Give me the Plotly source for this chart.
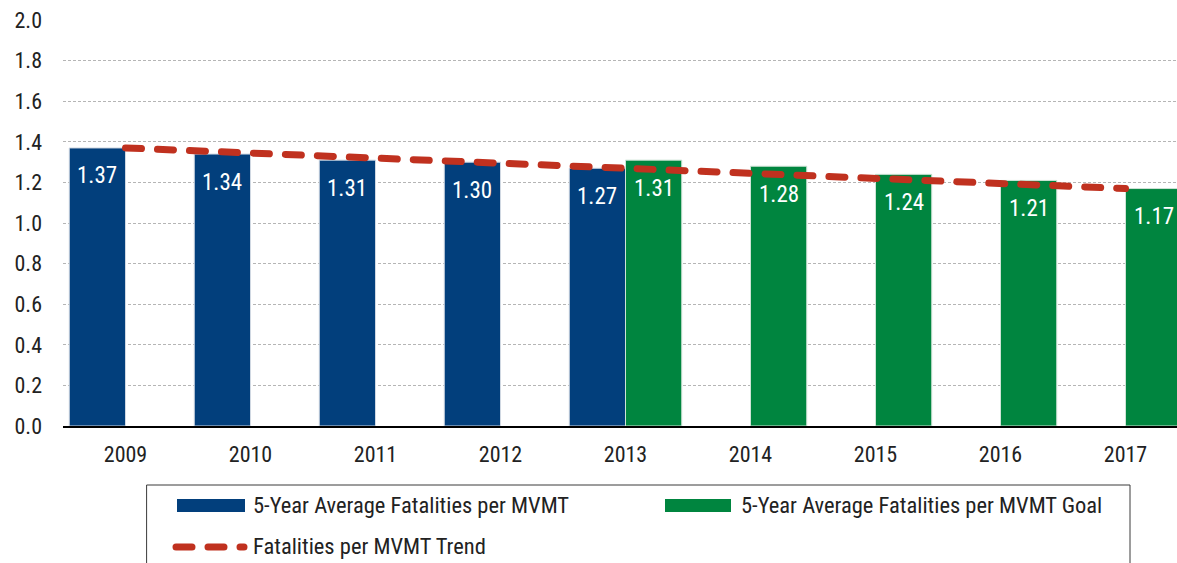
import plotly.graph_objects as go

years = ["2009", "2010", "2011", "2012", "2013", "2014", "2015", "2016", "2017"]
actual_years = ["2009", "2010", "2011", "2012", "2013"]
actual_vals = [1.37, 1.34, 1.31, 1.30, 1.27]
goal_years = ["2013", "2014", "2015", "2016", "2017"]
goal_vals = [1.31, 1.28, 1.24, 1.21, 1.17]
trend_vals = [1.37, 1.345, 1.32, 1.295, 1.27, 1.245, 1.22, 1.195, 1.17]

name_actual = "5-Year Average Fatalities per MVMT"
name_goal = "5-Year Average Fatalities per MVMT Goal"
name_trend = "Fatalities per MVMT Trend"

BLUE = "#023F7C"
GREEN = "#00853F"
RED = "#C0311F"
TXT = "#222222"
FONT = "Liberation Sans Narrow, Arial Narrow, Roboto Condensed, Liberation Sans, sans-serif"

W, H = 1177, 563
L, R, T = 63, 0, 20
PLOT_BOTTOM = 426
B = H - PLOT_BOTTOM
PW, PH = W - L - R, H - T - B
BW = 0.45
DASH = "16px,16px"

idx = {y: i for i, y in enumerate(years)}
xa = [idx[y] for y in actual_years]
xg = [idx[y] for y in goal_years]
xt = [idx[y] for y in years]

fig = go.Figure()
fig.add_trace(go.Bar(x=xa, y=actual_vals, name=name_actual, marker=dict(color=BLUE, line=dict(color="#d0d8e2", width=1)),
                     offset=-BW, width=BW, showlegend=False))
fig.add_trace(go.Bar(x=xg, y=goal_vals, name=name_goal, marker=dict(color=GREEN, line=dict(color="#cfe3d6", width=1)),
                     offset=0, width=BW, showlegend=False))
fig.add_trace(go.Scatter(x=xt, y=trend_vals, mode="lines", name=name_trend,
                         line=dict(color=RED, width=7, dash=DASH), showlegend=False))

annos = []
for x, v in zip(xa, actual_vals):
    annos.append(dict(x=x - BW / 2, y=v, yshift=-28, text=f"{v:.2f}", showarrow=False,
                      font=dict(color="white", size=23, family=FONT), xref="x", yref="y"))
for x, v in zip(xg, goal_vals):
    annos.append(dict(x=x + BW / 2, y=v, yshift=-28, text=f"{v:.2f}", showarrow=False,
                      font=dict(color="white", size=23, family=FONT), xref="x", yref="y"))


# helpers: window pixels -> paper coordinates
def px(x):
    return (x - L) / PW


def py(y):
    return (PLOT_BOTTOM - y) / PH


shapes = [
    dict(type="rect", xref="paper", yref="paper", x0=px(147), x1=px(1130), y0=py(485), y1=py(600),
         line=dict(color="#3a3a3a", width=1), fillcolor="rgba(0,0,0,0)", layer="above"),
    dict(type="rect", xref="paper", yref="paper", x0=px(177), x1=px(245), y0=py(512), y1=py(499),
         line=dict(width=0), fillcolor=BLUE),
    dict(type="rect", xref="paper", yref="paper", x0=px(665), x1=px(731), y0=py(512), y1=py(499),
         line=dict(width=0), fillcolor=GREEN),
    dict(type="line", xref="paper", yref="paper", x0=px(176), x1=px(244), y0=py(547), y1=py(547),
         line=dict(color=RED, width=7, dash=DASH)),
]
for text, x, y in [(name_actual, 251, 505), (name_goal, 739, 505), (name_trend, 251, 546)]:
    annos.append(dict(xref="paper", yref="paper", x=px(x), y=py(y), xanchor="left", yanchor="middle",
                      text=text, showarrow=False, font=dict(color=TXT, size=22.5, family=FONT)))

fig.update_layout(
    width=W, height=H,
    margin=dict(l=L, r=R, t=T, b=B),
    paper_bgcolor="white", plot_bgcolor="white",
    barmode="overlay",
    font=dict(family=FONT, size=22, color=TXT),
    annotations=annos,
    shapes=shapes,
    showlegend=False,
)
fig.update_xaxes(
    range=[-0.5, -0.5 + PW / 125.0],
    tickmode="array", tickvals=xt, ticktext=years,
    showgrid=False, zeroline=False,
    showline=True, linecolor="black", linewidth=1.5,
    ticks="", ticklabelstandoff=8,
    tickfont=dict(size=22, color=TXT, family=FONT),
)
fig.update_yaxes(
    range=[0, 2.0005], tick0=0, dtick=0.2, tickformat=".1f",
    showgrid=True, gridcolor="#b5b5b5", gridwidth=1, griddash="3px,2px",
    zeroline=False, showline=False, ticks="", ticklabelstandoff=20,
    tickfont=dict(size=22, color=TXT, family=FONT),
)

post = (
    "document.body.style.margin='0px';document.body.style.overflow='hidden';"
    "document.querySelectorAll('.scatterlayer .js-line, .shapelayer path').forEach(function(p){"
    "p.style.strokeLinecap='round';});"
)
fig.write_html("out.html", config={"displayModeBar": False}, post_script=post)
